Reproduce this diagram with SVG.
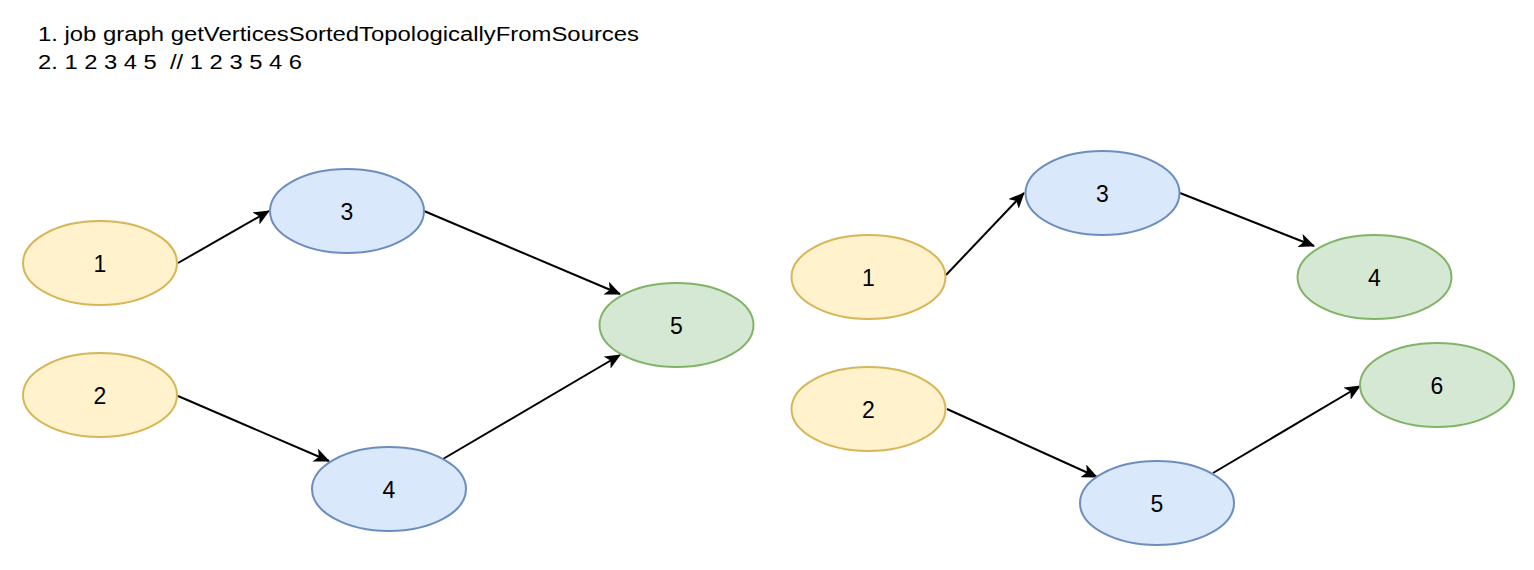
<svg xmlns="http://www.w3.org/2000/svg" width="1534" height="570" viewBox="0 0 1534 570">
  <style>
    .title { font-family: "Liberation Sans", Arial, sans-serif; font-size: 20px; fill: #000; }
    .lbl { font-family: "Liberation Sans", Arial, sans-serif; font-size: 23px; fill: #000; text-anchor: middle; dominant-baseline: central; }
    .src { fill: #fff2cc; stroke: #d6b656; stroke-width: 2; }
    .mid { fill: #dae8fc; stroke: #6c8ebf; stroke-width: 2; }
    .snk { fill: #d5e8d4; stroke: #82b366; stroke-width: 2; }
    .edge { stroke: #000; stroke-width: 2; fill: none; marker-end: url(#arrow); }
  </style>
  <defs>
    <marker id="arrow" markerUnits="userSpaceOnUse" viewBox="0 0 16 14" refX="15" refY="7" markerWidth="16" markerHeight="14" orient="auto">
      <path d="M0,0 L16,7 L0,14 L4,7 Z" fill="#000"/>
    </marker>
  </defs>
  <rect width="1534" height="570" fill="#fff"/>

  <g id="header">
    <text class="title" x="38" y="41" textLength="601" lengthAdjust="spacingAndGlyphs">1. job graph getVerticesSortedTopologicallyFromSources</text>
    <text class="title" x="38" y="69" xml:space="preserve" textLength="264" lengthAdjust="spacingAndGlyphs">2. 1 2 3 4 5  // 1 2 3 5 4 6</text>
  </g>

  <g id="connectors">
    <line class="edge" x1="178" y1="263" x2="269" y2="211"/>
    <line class="edge" x1="178" y1="396" x2="329" y2="461"/>
    <line class="edge" x1="424" y1="211" x2="620" y2="294"/>
    <line class="edge" x1="443" y1="459" x2="620" y2="355"/>
    <line class="edge" x1="946" y1="275" x2="1024" y2="193"/>
    <line class="edge" x1="1180" y1="193" x2="1314" y2="246"/>
    <line class="edge" x1="947" y1="409" x2="1097" y2="477"/>
    <line class="edge" x1="1213" y1="473" x2="1360" y2="386"/>
  </g>

  <g id="L1"><ellipse class="src" cx="100" cy="263" rx="77" ry="42"/><text class="lbl" x="100" y="264">1</text></g>
  <g id="L2"><ellipse class="src" cx="100" cy="395" rx="77" ry="42"/><text class="lbl" x="100" y="396">2</text></g>
  <g id="L3"><ellipse class="mid" cx="347" cy="211" rx="77" ry="42"/><text class="lbl" x="347" y="212">3</text></g>
  <g id="L4"><ellipse class="mid" cx="389" cy="489" rx="77" ry="42"/><text class="lbl" x="389" y="490">4</text></g>
  <g id="L5"><ellipse class="snk" cx="676.5" cy="325" rx="77" ry="42"/><text class="lbl" x="676.5" y="326">5</text></g>

  <g id="R1"><ellipse class="src" cx="868.5" cy="277" rx="77" ry="42"/><text class="lbl" x="868.5" y="278">1</text></g>
  <g id="R2"><ellipse class="src" cx="868.5" cy="409" rx="77" ry="42"/><text class="lbl" x="868.5" y="410">2</text></g>
  <g id="R3"><ellipse class="mid" cx="1102.5" cy="193" rx="77" ry="42"/><text class="lbl" x="1102.5" y="194">3</text></g>
  <g id="R4"><ellipse class="snk" cx="1374.5" cy="277" rx="77" ry="42"/><text class="lbl" x="1374.5" y="278">4</text></g>
  <g id="R5"><ellipse class="mid" cx="1157" cy="503" rx="77" ry="42"/><text class="lbl" x="1157" y="504">5</text></g>
  <g id="R6"><ellipse class="snk" cx="1437" cy="385" rx="77" ry="42"/><text class="lbl" x="1437" y="386">6</text></g>
</svg>
